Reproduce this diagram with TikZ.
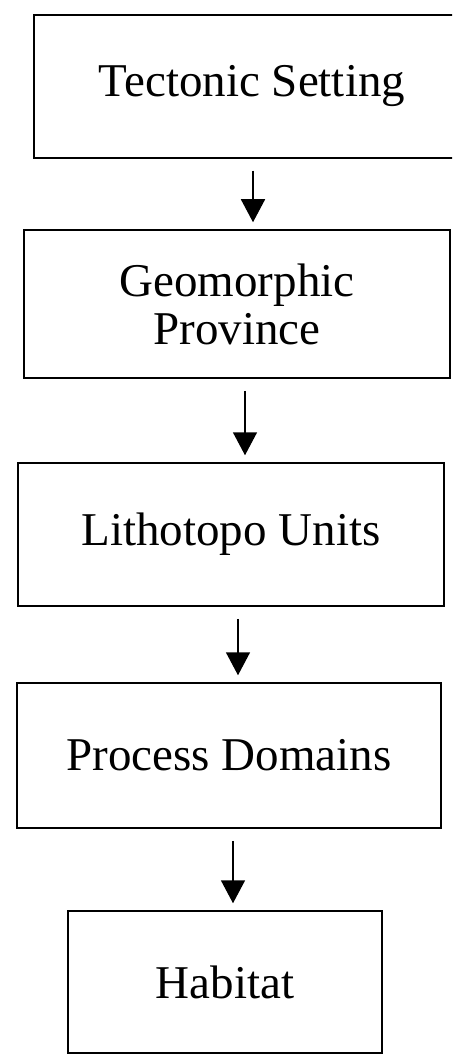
\documentclass[tikz,border=0pt]{standalone}
\usepackage{fontspec}
\setmainfont{Liberation Serif}
\usetikzlibrary{arrows.meta}
\begin{document}
\begin{tikzpicture}[x=1pt,y=-1pt]
\tikzset{level/.style={draw=black, line width=1.5pt, inner sep=0pt, align=center, font=\fontsize{47}{48}\selectfont}}
\tikzset{down/.style={black, line width=1.6pt, shorten <=12pt, shorten >=7pt, -{Triangle[length=23pt,width=24pt]}}}
\clip (0,0) rectangle (452,1056);
\node [level, minimum width=436pt, minimum height=143pt] (tect) at (252,86.5) {Tectonic Setting};
\node [level, minimum width=426pt, minimum height=148pt] (geo) at (237,304) {Geomorphic\\Province};
\node [level, minimum width=426pt, minimum height=143pt] (litho) at (231,534.5) {Lithotopo Units};
\node [level, minimum width=424pt, minimum height=145pt] (proc) at (229,755.5) {Process Domains};
\node [level, minimum width=314pt, minimum height=142pt] (hab) at (225,982) {Habitat};
\draw [down] (tect.south -| 253,0) -- (geo.north -| 253,0);
\draw [down] (geo.south -| 245,0) -- (litho.north -| 245,0);
\draw [down] (litho.south -| 238,0) -- (proc.north -| 238,0);
\draw [down] (proc.south -| 233,0) -- (hab.north -| 233,0);
\end{tikzpicture}
\end{document}
